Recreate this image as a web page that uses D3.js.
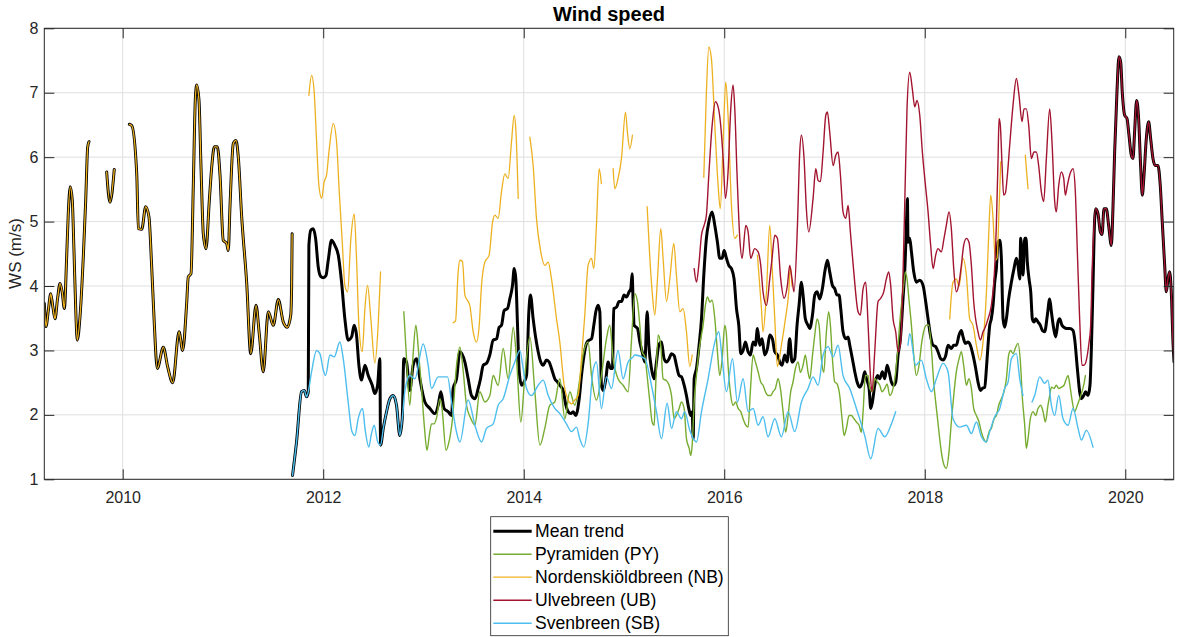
<!DOCTYPE html>
<html>
<head>
<meta charset="utf-8">
<script src="https://cdn.jsdelivr.net/npm/d3@7"></script>
<style>
  html, body { margin: 0; padding: 0; background: #ffffff; }
  svg { display: block; font-family: "Liberation Sans", Arial, Helvetica, sans-serif; }
</style>
</head>
<body>
<svg id="chart" width="1177" height="637"></svg>
<script>
// ---------------------------------------------------------------
// Wind speed at four Svalbard stations and their mean trend.
// Each series is a list of [decimal year, m/s]; null marks a data gap.
// ---------------------------------------------------------------
const xTicks = [2010, 2012, 2014, 2016, 2018, 2020];
const yTicks = [1, 2, 3, 4, 5, 6, 7, 8];
const seriesNames = ["Mean trend", "Pyramiden (PY)", "Nordenskiöldbreen (NB)", "Ulvebreen (UB)", "Svenbreen (SB)"];
const seriesColors = ["#000000", "#77AC30", "#EDB120", "#A2142F", "#4DBEEE"];

// NB record 2009-2011 (the only station then, so the mean equals it)
const nbEarly = [
  [2009.218,3.73],[2009.235,3.37],[2009.258,3.62],[2009.282,3.88],[2009.303,3.68],[2009.325,3.49],
  [2009.350,3.80],[2009.375,4.04],[2009.397,3.90],[2009.418,3.65],[2009.441,4.45],[2009.457,5.12],
  [2009.477,5.54],[2009.497,5.33],[2009.514,4.55],[2009.534,3.52],[2009.547,3.16],[2009.574,3.52],
  [2009.607,4.45],[2009.631,5.33],[2009.651,6.16],[2009.664,6.24], null,
  [2009.840,5.77],[2009.873,5.30],[2009.916,5.81], null,
  [2010.066,6.51],[2010.090,6.49],[2010.140,5.74],[2010.156,4.89],[2010.190,4.88],[2010.229,5.23],
  [2010.262,5.07],[2010.289,4.30],[2010.312,3.52],[2010.345,2.72],[2010.405,3.05],[2010.449,2.74],
  [2010.499,2.50],[2010.562,3.29],[2010.598,3.00],[2010.638,3.73],[2010.654,4.14],[2010.681,4.19],
  [2010.704,5.54],[2010.724,6.88],[2010.738,7.12],[2010.761,6.88],[2010.781,5.85],[2010.804,4.81],
  [2010.831,4.58],[2010.864,5.33],[2010.888,5.85],[2010.914,6.16],[2010.944,6.16],[2010.970,5.74],
  [2011.003,4.71],[2011.037,4.66],[2011.053,4.55],[2011.070,5.23],[2011.103,6.21],[2011.130,6.26],
  [2011.153,6.00],[2011.187,5.07],[2011.237,4.04],[2011.277,2.95],[2011.330,3.70],[2011.362,3.26],
  [2011.402,2.67],[2011.452,3.60],[2011.502,3.39],[2011.552,3.79],[2011.602,3.44],[2011.642,3.36],
  [2011.676,3.55],[2011.685,4.00],[2011.690,4.81]
];

// SB spans where the mean follows SB alone
const sbEarly = [[2011.694,1.06],[2011.734,1.58],[2011.784,2.36],[2011.811,2.38],[2011.834,2.28],[2011.851,2.36]];
const sbMid = [[2012.572,1.53],[2012.600,1.80],[2012.632,2.05],[2012.665,2.25],[2012.698,2.30],[2012.731,2.15],[2012.764,1.68],[2012.788,1.94]];

// UB from mid-2019 onward (only station then, so the mean equals it)
const ubLate = [
  [2019.705,5.20],[2019.728,5.12],[2019.751,4.84],[2019.768,4.80],[2019.788,5.20],[2019.811,5.20],
  [2019.834,4.94],[2019.861,4.63],[2019.877,5.20],[2019.894,6.08],[2019.917,7.01],[2019.937,7.56],
  [2019.954,7.48],[2019.970,7.01],[2019.994,6.65],[2020.017,6.60],[2020.037,6.34],[2020.060,6.03],
  [2020.077,5.98],[2020.093,6.39],[2020.113,6.88],[2020.133,6.60],[2020.153,5.87],[2020.170,5.41],
  [2020.186,5.70],[2020.210,6.29],[2020.233,6.55],[2020.253,6.29],[2020.276,5.98],[2020.299,5.87],
  [2020.326,5.87],[2020.349,5.56],[2020.369,4.99],[2020.393,4.32],[2020.409,3.91],[2020.426,4.11],
  [2020.442,4.22],[2020.459,3.91],[2020.476,3.13],[2020.486,2.82]
];

// Mean trend between the single-station spans
const meanA = [
  [2011.857,4.63],[2011.877,4.87],[2011.900,4.89],[2011.924,4.74],[2011.950,4.30],[2011.975,4.15],
  [2012.000,4.13],[2012.027,4.16],[2012.050,4.40],[2012.083,4.71],[2012.116,4.63],[2012.150,4.48],
  [2012.183,4.06],[2012.216,3.49],[2012.249,3.16],[2012.283,3.21],[2012.309,3.39],[2012.332,3.24],
  [2012.356,2.77],[2012.382,2.54],[2012.416,2.77],[2012.449,2.61],[2012.489,2.46],[2012.515,2.33],
  [2012.542,2.46],[2012.565,2.87]
];
const meanB = [
  [2012.804,2.87],[2012.831,2.82],[2012.864,2.38],[2012.897,2.77],[2012.931,2.87],[2012.964,2.56],
  [2013.014,2.20],[2013.064,2.10],[2013.114,2.02],[2013.147,2.15],[2013.173,2.36],[2013.206,2.10],
  [2013.246,2.05],[2013.280,1.99],[2013.296,2.41],[2013.330,2.56],[2013.363,2.98],[2013.413,2.82],
  [2013.446,2.56],[2013.479,2.30],[2013.513,2.25],[2013.546,2.41],[2013.569,2.56],[2013.596,2.77],
  [2013.629,2.80],[2013.662,2.93],[2013.695,3.16],[2013.729,3.18],[2013.755,3.36],[2013.778,3.39],
  [2013.805,3.62],[2013.838,3.65],[2013.861,3.80],[2013.888,4.01],[2013.905,4.27],[2013.921,4.11],
  [2013.938,3.39],[2013.955,2.67],[2013.978,2.46],[2014.004,2.51],[2014.028,2.61],[2014.051,3.60],
  [2014.067,3.86],[2014.094,3.49],[2014.121,3.18],[2014.144,2.98],[2014.170,2.82],[2014.194,2.77],
  [2014.227,2.85],[2014.254,2.82],[2014.277,2.72],[2014.310,2.56],[2014.337,2.51],[2014.360,2.46],
  [2014.393,2.38],[2014.420,2.15],[2014.443,2.05],[2014.470,2.02],[2014.493,2.05],[2014.519,1.99],
  [2014.553,2.25],[2014.576,2.61],[2014.602,2.93],[2014.626,3.11],[2014.652,3.16],[2014.676,3.18],
  [2014.699,3.39],[2014.719,3.60],[2014.742,3.70],[2014.759,3.60],[2014.775,2.46],[2014.792,2.38],
  [2014.819,2.56],[2014.842,2.82],[2014.865,2.72],[2014.885,2.72],[2014.898,3.65],[2014.925,3.67],
  [2014.951,3.76],[2014.975,3.76],[2015.001,3.86],[2015.025,3.83],[2015.051,3.91],[2015.068,3.96],
  [2015.081,4.19],[2015.091,3.76],[2015.101,3.39],[2015.135,3.34],[2015.158,3.13],[2015.181,2.98],
  [2015.208,2.82],[2015.231,3.60],[2015.248,3.08],[2015.274,2.72],[2015.301,2.56],[2015.324,2.82],
  [2015.347,3.08],[2015.374,3.13],[2015.400,2.87],[2015.424,2.82],[2015.450,2.87],[2015.474,2.95],
  [2015.500,2.92],[2015.523,2.77],[2015.550,2.61],[2015.573,2.59],[2015.600,2.46],[2015.623,2.30],
  [2015.646,2.10],[2015.666,1.99],[2015.680,2.05],[2015.690,1.63],[2015.700,2.56],[2015.723,2.72],
  [2015.749,3.08],[2015.773,3.49],[2015.796,4.17],[2015.822,4.74],[2015.846,4.99],[2015.879,5.15],
  [2015.906,4.94],[2015.932,4.68],[2015.955,4.43],[2015.979,4.43],[2015.999,4.55],[2016.022,4.43],
  [2016.045,4.32],[2016.072,4.27],[2016.098,4.11],[2016.122,3.65],[2016.145,3.39],[2016.165,2.95],
  [2016.188,3.00],[2016.211,3.13],[2016.238,2.98],[2016.261,2.93],[2016.288,3.13],[2016.311,3.08],
  [2016.331,3.34],[2016.354,3.08],[2016.377,3.18],[2016.404,2.93],[2016.431,3.03],[2016.454,3.24],
  [2016.480,3.18],[2016.504,2.98],[2016.530,2.93],[2016.554,2.82],[2016.577,2.77],[2016.603,2.93],
  [2016.627,2.82],[2016.653,3.18],[2016.676,2.82],[2016.703,2.87],[2016.726,3.39],[2016.746,3.70],
  [2016.770,4.06],[2016.786,3.86],[2016.809,3.49],[2016.836,3.39],[2016.853,3.34],[2016.880,3.55],
  [2016.903,3.86],[2016.926,3.91],[2016.953,3.80],[2016.979,3.96],[2017.003,4.22],[2017.029,4.40],
  [2017.052,4.22],[2017.079,4.01],[2017.102,3.96],[2017.125,3.86],[2017.145,3.86],[2017.162,3.65],
  [2017.185,3.29],[2017.212,3.18],[2017.235,3.21],[2017.252,3.08],[2017.278,2.87],[2017.302,2.67],
  [2017.325,2.51],[2017.351,2.43],[2017.378,2.51],[2017.401,2.67],[2017.418,2.56],[2017.445,2.41],
  [2017.461,2.10],[2017.478,2.20],[2017.501,2.46],[2017.528,2.61],[2017.551,2.56],[2017.577,2.67],
  [2017.601,2.56],[2017.624,2.77],[2017.644,2.67],[2017.667,2.51],[2017.690,2.46],[2017.710,2.51],
  [2017.734,2.93],[2017.757,3.18],[2017.783,3.80],[2017.803,4.32],[2017.817,4.94],[2017.827,5.36],
  [2017.833,4.68],[2017.850,4.74],[2017.867,4.53],[2017.890,4.22],[2017.916,4.06],[2017.950,4.09],
  [2017.983,4.01],[2018.009,3.76],[2018.033,3.49],[2018.056,3.24],[2018.083,3.08],[2018.109,3.06],
  [2018.132,2.98],[2018.159,2.87],[2018.182,2.85],[2018.209,2.92],[2018.232,3.08],[2018.265,3.03],
  [2018.289,3.08],[2018.315,3.08],[2018.342,3.24],[2018.365,3.31],[2018.382,3.21],[2018.405,3.11],
  [2018.431,3.13],[2018.455,3.08],[2018.481,2.93],[2018.508,2.72],[2018.531,2.51],[2018.555,2.38],
  [2018.574,2.41],[2018.598,2.43],[2018.615,2.72],[2018.631,3.08],[2018.648,3.39],[2018.664,3.49],
  [2018.681,3.70],[2018.698,4.06],[2018.714,4.27],[2018.731,4.68],[2018.748,4.71],[2018.764,4.43],
  [2018.781,3.49],[2018.797,3.36],[2018.814,3.49],[2018.837,3.80],[2018.864,4.06],[2018.890,4.27],
  [2018.914,4.43],[2018.930,4.32],[2018.947,4.11],[2018.957,4.74],[2018.970,4.43],[2018.980,4.17],
  [2018.997,4.74],[2019.010,4.74],[2019.023,4.37],[2019.040,4.11],[2019.057,3.91],[2019.073,3.49],
  [2019.090,3.44],[2019.106,3.49],[2019.130,3.44],[2019.153,3.39],[2019.173,3.31],[2019.196,3.29],
  [2019.223,3.55],[2019.246,3.80],[2019.263,3.60],[2019.286,3.34],[2019.306,3.21],[2019.329,3.44],
  [2019.346,3.49],[2019.369,3.39],[2019.389,3.36],[2019.412,3.34],[2019.445,3.34],[2019.479,3.31],
  [2019.495,3.18],[2019.522,2.72],[2019.545,2.36],[2019.562,2.25],[2019.585,2.30],[2019.605,2.36],
  [2019.628,2.30],[2019.648,2.46],[2019.661,2.98],[2019.678,4.01],[2019.695,5.05]
];

// Pyramiden
const pyValues = [
  [2012.804,3.60],[2012.830,2.90],[2012.864,2.15],[2012.895,2.90],[2012.924,3.39],[2012.950,3.00],
  [2012.980,2.43],[2013.010,1.80],[2013.035,1.45],[2013.060,1.70],[2013.080,1.86],[2013.105,1.86],
  [2013.130,1.95],[2013.165,2.25],[2013.185,2.10],[2013.225,1.45],[2013.250,1.55],[2013.290,1.95],
  [2013.330,2.77],[2013.363,3.05],[2013.395,2.70],[2013.429,2.15],[2013.470,1.95],[2013.513,1.84],
  [2013.562,2.36],[2013.612,2.20],[2013.662,2.30],[2013.695,2.61],[2013.745,2.46],[2013.795,3.03],
  [2013.845,2.56],[2013.895,3.36],[2013.928,2.87],[2013.971,1.89],[2014.011,2.61],[2014.061,3.21],
  [2014.111,2.36],[2014.161,1.53],[2014.210,1.79],[2014.260,2.15],[2014.310,2.20],[2014.360,2.56],
  [2014.410,1.94],[2014.460,2.36],[2014.509,2.15],[2014.559,2.56],[2014.592,2.93],[2014.642,3.13],
  [2014.676,2.61],[2014.725,2.23],[2014.775,2.61],[2014.825,3.18],[2014.858,3.39],[2014.892,2.87],
  [2014.941,2.56],[2014.991,2.46],[2015.041,2.36],[2015.074,3.13],[2015.108,3.88],[2015.135,3.75],
  [2015.158,3.39],[2015.181,2.98],[2015.208,2.90],[2015.234,2.56],[2015.258,2.20],[2015.281,1.89],
  [2015.301,1.84],[2015.314,2.36],[2015.341,3.24],[2015.367,3.08],[2015.390,2.56],[2015.424,2.53],
  [2015.450,2.46],[2015.474,2.30],[2015.500,1.94],[2015.523,1.99],[2015.550,2.10],[2015.573,2.20],
  [2015.600,2.10],[2015.623,1.63],[2015.650,1.48],[2015.666,1.37],[2015.680,1.53],[2015.700,2.20],
  [2015.723,2.61],[2015.746,2.98],[2015.766,3.18],[2015.789,3.39],[2015.812,3.70],[2015.832,3.83],
  [2015.856,3.75],[2015.879,3.78],[2015.906,3.49],[2015.932,2.98],[2015.955,2.61],[2015.979,2.87],
  [2016.005,3.39],[2016.022,3.24],[2016.038,2.77],[2016.065,2.30],[2016.088,2.15],[2016.115,2.20],
  [2016.138,2.10],[2016.165,2.05],[2016.188,1.94],[2016.215,1.84],[2016.238,1.81],[2016.261,2.38],
  [2016.288,2.93],[2016.311,2.82],[2016.338,2.67],[2016.364,2.51],[2016.387,2.46],[2016.411,2.36],
  [2016.437,2.30],[2016.464,2.30],[2016.487,2.36],[2016.510,2.41],[2016.537,2.56],[2016.560,2.41],
  [2016.587,2.05],[2016.613,1.73],[2016.637,1.99],[2016.663,2.36],[2016.686,2.51],[2016.710,2.72],
  [2016.736,2.82],[2016.760,2.66],[2016.786,2.77],[2016.809,2.93],[2016.836,2.66],[2016.853,2.56],
  [2016.880,2.92],[2016.903,3.24],[2016.926,3.49],[2016.946,3.39],[2016.969,2.87],[2016.993,2.66],
  [2017.019,3.29],[2017.042,3.60],[2017.059,3.39],[2017.079,2.87],[2017.102,2.51],[2017.125,2.48],
  [2017.152,2.30],[2017.175,1.94],[2017.195,1.68],[2017.218,1.79],[2017.245,1.99],[2017.268,1.99],
  [2017.295,1.94],[2017.318,1.89],[2017.345,1.84],[2017.368,1.73],[2017.385,2.05],[2017.408,2.61],
  [2017.435,2.61],[2017.451,2.41],[2017.478,2.36],[2017.501,2.56],[2017.528,2.51],[2017.551,2.46],
  [2017.574,2.36],[2017.601,2.41],[2017.624,2.48],[2017.651,2.30],[2017.684,2.41],[2017.710,2.67],
  [2017.734,3.08],[2017.757,3.55],[2017.783,3.91],[2017.807,4.22],[2017.823,4.11],[2017.843,3.78],
  [2017.867,3.39],[2017.890,2.93],[2017.916,2.61],[2017.943,2.77],[2017.966,3.08],[2017.989,3.29],
  [2018.016,3.39],[2018.039,3.39],[2018.066,3.03],[2018.089,2.51],[2018.116,2.10],[2018.142,1.73],
  [2018.165,1.43],[2018.192,1.22],[2018.215,1.17],[2018.242,1.43],[2018.265,1.89],[2018.289,2.30],
  [2018.315,2.67],[2018.342,2.87],[2018.365,2.98],[2018.388,2.77],[2018.415,2.46],[2018.441,2.56],
  [2018.465,2.41],[2018.488,2.10],[2018.515,1.99],[2018.541,1.89],[2018.565,1.73],[2018.588,1.63],
  [2018.614,1.58],[2018.631,1.68],[2018.648,1.76],[2018.664,1.79],[2018.691,1.94],[2018.714,1.99],
  [2018.738,2.15],[2018.764,2.25],[2018.791,2.36],[2018.814,2.56],[2018.837,2.93],[2018.857,3.00],
  [2018.880,2.95],[2018.907,3.05],[2018.930,3.11],[2018.954,2.82],[2018.974,2.25],[2018.997,1.84],
  [2019.013,1.48],[2019.030,1.63],[2019.053,1.94],[2019.080,2.05],[2019.106,1.99],[2019.130,2.10],
  [2019.156,2.15],[2019.180,2.05],[2019.203,1.89],[2019.229,2.15],[2019.246,2.30],[2019.263,2.43],
  [2019.289,2.41],[2019.312,2.46],[2019.336,2.41],[2019.362,2.43],[2019.389,2.46],[2019.412,2.56],
  [2019.429,2.61],[2019.452,2.41],[2019.472,2.20],[2019.495,2.05],[2019.522,2.15],[2019.545,2.25],
  [2019.568,2.36],[2019.588,2.48],[2019.602,2.61]
];

// Nordenskiöldbreen after 2011
const nbLater = [
  [2011.857,6.96],[2011.884,7.27],[2011.910,7.01],[2011.934,6.24],[2011.957,5.56],[2011.984,5.36],
  [2012.010,5.62],[2012.033,5.72],[2012.057,6.08],[2012.100,6.52],[2012.133,6.24],[2012.160,5.46],
  [2012.190,4.68],[2012.216,4.01],[2012.243,3.91],[2012.276,4.74],[2012.309,5.12],[2012.332,4.43],
  [2012.356,3.39],[2012.389,2.98],[2012.416,3.65],[2012.442,4.01],[2012.475,3.49],[2012.515,2.80],
  [2012.548,3.39],[2012.572,4.22], null,
  [2013.296,3.43],[2013.320,3.46],[2013.345,4.20],[2013.363,4.40],[2013.389,4.38],[2013.413,3.86],
  [2013.462,3.70],[2013.496,3.29],[2013.529,3.13],[2013.556,3.39],[2013.579,4.01],[2013.612,4.37],
  [2013.655,4.48],[2013.689,4.99],[2013.712,5.10],[2013.745,5.05],[2013.778,5.46],[2013.812,5.74],
  [2013.845,5.67],[2013.878,6.24],[2013.905,6.65],[2013.921,6.44],[2013.945,5.36], null,
  [2014.061,6.31],[2014.094,5.87],[2014.127,5.05],[2014.170,4.53],[2014.210,4.32],[2014.244,4.37],
  [2014.277,4.11],[2014.327,3.49],[2014.360,3.13],[2014.403,2.46],[2014.443,2.23],[2014.476,2.17],
  [2014.509,2.23],[2014.543,2.30],[2014.576,2.87],[2014.609,3.55],[2014.642,4.32],[2014.676,4.43],
  [2014.699,4.27],[2014.725,4.94],[2014.752,5.82],[2014.775,5.59], null,
  [2014.892,5.82],[2014.908,5.51],[2014.941,5.67],[2014.975,5.98],[2015.015,6.70],[2015.034,6.39],
  [2015.058,6.13],[2015.084,6.34], null,
  [2015.231,5.23],[2015.258,4.43],[2015.281,3.91],[2015.307,3.55],[2015.334,4.11],[2015.367,4.89],
  [2015.390,4.43],[2015.424,3.76],[2015.457,4.11],[2015.497,4.66],[2015.523,4.17],[2015.557,3.60],
  [2015.590,3.65],[2015.623,3.29],[2015.656,2.75],[2015.680,2.93], null,
  [2015.796,5.69],[2015.822,7.01],[2015.846,7.71],[2015.872,7.53],[2015.906,6.49],[2015.939,5.56],
  [2015.960,5.20],[2015.989,6.24],[2016.015,7.17],[2016.038,6.65],[2016.072,5.25],[2016.105,4.74],
  [2016.131,4.79], null,
  [2016.331,4.48],[2016.371,3.65],[2016.387,3.29],[2016.421,3.91],[2016.454,4.94],[2016.477,4.32],
  [2016.504,3.49],[2016.530,2.75],[2016.570,3.08],[2016.610,3.49],[2016.643,3.90],[2016.659,4.30],
  [2016.676,4.00], null,
  [2018.249,3.49],[2018.282,4.06],[2018.315,4.11],[2018.342,4.00],[2018.382,4.43],[2018.415,4.17],
  [2018.448,3.49],[2018.481,3.39],[2018.515,3.08],[2018.548,2.85],[2018.581,3.13],[2018.615,3.90],
  [2018.638,4.80],[2018.658,5.41],[2018.681,5.05],[2018.704,4.40],[2018.721,4.43],[2018.741,5.20],
  [2018.758,5.93], null,
  [2019.003,6.03],[2019.017,5.75],[2019.030,5.51]
];

// Ulvebreen before the single-station span
const ubMain = [
  [2015.700,4.27],[2015.723,4.06],[2015.746,4.32],[2015.773,4.79],[2015.799,4.94],[2015.822,5.10],
  [2015.846,5.72],[2015.879,6.49],[2015.912,6.86],[2015.939,6.78],[2015.965,6.49],[2015.989,5.98],
  [2016.012,5.36],[2016.038,5.77],[2016.065,6.75],[2016.088,7.12],[2016.105,6.75],[2016.128,5.72],
  [2016.155,4.74],[2016.178,4.43],[2016.215,4.94],[2016.238,4.84],[2016.264,4.43],[2016.304,4.58],
  [2016.338,4.53],[2016.364,4.32],[2016.387,3.91],[2016.421,3.70],[2016.454,4.11],[2016.477,4.43],
  [2016.504,4.79],[2016.530,4.74],[2016.563,4.11],[2016.597,3.81],[2016.630,4.01],[2016.653,4.32],
  [2016.676,4.11],[2016.696,3.91],[2016.730,4.94],[2016.753,6.08],[2016.770,6.34],[2016.796,5.98],
  [2016.819,5.20],[2016.843,4.84],[2016.886,5.36],[2016.913,5.82],[2016.936,5.64],[2016.959,5.62],
  [2016.986,6.08],[2017.013,6.65],[2017.029,6.70],[2017.052,6.39],[2017.086,5.87],[2017.112,6.03],
  [2017.135,6.08],[2017.159,5.72],[2017.185,5.15],[2017.212,5.05],[2017.235,5.25],[2017.258,4.84],
  [2017.292,4.22],[2017.335,3.60],[2017.358,3.55],[2017.385,3.96],[2017.411,4.06],[2017.435,3.39],
  [2017.458,2.61],[2017.474,2.36],[2017.501,2.98],[2017.534,3.76],[2017.561,3.81],[2017.591,3.91],
  [2017.617,4.11],[2017.641,4.22],[2017.660,4.01],[2017.684,3.49],[2017.710,3.29],[2017.734,2.98],
  [2017.760,3.13],[2017.783,4.17],[2017.803,5.46],[2017.823,6.75],[2017.850,7.32],[2017.876,7.06],
  [2017.900,6.78],[2017.923,6.88],[2017.950,6.65],[2017.976,6.08],[2018.000,5.67],[2018.033,5.15],
  [2018.059,4.63],[2018.083,4.27],[2018.109,4.48],[2018.132,4.58],[2018.165,4.53],[2018.192,4.74],
  [2018.215,4.94],[2018.242,5.15],[2018.265,4.89],[2018.289,4.27],[2018.315,3.91],[2018.338,4.01],
  [2018.365,4.32],[2018.388,4.63],[2018.415,4.74],[2018.441,4.68],[2018.465,4.32],[2018.488,3.76],
  [2018.531,3.29],[2018.555,3.16],[2018.581,3.29],[2018.598,3.34],[2018.631,3.49],[2018.664,3.70],
  [2018.691,4.11],[2018.714,4.94],[2018.731,5.98],[2018.741,6.60],[2018.754,6.49],[2018.771,5.87],
  [2018.787,5.41],[2018.804,5.44],[2018.824,5.72],[2018.847,6.18],[2018.880,6.80],[2018.914,7.22],
  [2018.940,6.96],[2018.970,6.55],[2018.990,6.75],[2019.013,6.75],[2019.037,6.49],[2019.063,5.98],
  [2019.090,6.08],[2019.113,6.08],[2019.136,5.87],[2019.163,5.46],[2019.186,5.31],[2019.213,5.98],
  [2019.246,6.75],[2019.269,6.24],[2019.296,5.31],[2019.312,5.15],[2019.336,5.56],[2019.362,5.77],
  [2019.386,5.67],[2019.402,5.41],[2019.422,5.56],[2019.445,5.72],[2019.479,5.82],[2019.502,5.46],
  [2019.522,4.53],[2019.545,3.49],[2019.568,2.77],[2019.588,2.77],[2019.612,2.85],[2019.635,3.08],
  [2019.655,3.39],[2019.668,4.17],[2019.685,4.84]
];

// Svenbreen outside the spans shared with the mean
const sbA = [
  [2011.884,2.67],[2011.934,3.00],[2011.967,2.95],[2012.000,2.70],[2012.023,2.61],[2012.067,2.93],
  [2012.110,2.90],[2012.166,3.13],[2012.200,2.87],[2012.249,2.20],[2012.285,1.75],[2012.316,1.68],
  [2012.350,1.95],[2012.392,2.10],[2012.420,1.75],[2012.455,1.50],[2012.480,1.70],[2012.509,1.84],
  [2012.540,1.60]
];
const sbB = [
  [2012.814,2.36],[2012.864,2.61],[2012.914,2.56],[2012.997,3.10],[2013.047,2.77],[2013.080,2.41],
  [2013.147,2.59],[2013.240,2.59],[2013.280,2.20],[2013.330,1.73],[2013.363,1.58],[2013.446,2.23],
  [2013.513,1.84],[2013.579,1.58],[2013.629,1.79],[2013.695,1.86],[2013.745,2.15],[2013.795,2.25],
  [2013.861,2.61],[2013.911,2.82],[2013.961,3.00],[2013.994,2.72],[2014.028,2.41],[2014.077,2.30],
  [2014.144,2.46],[2014.194,2.54],[2014.244,2.30],[2014.310,2.10],[2014.360,2.02],[2014.426,1.86],
  [2014.476,1.74],[2014.526,1.81],[2014.559,1.63],[2014.599,1.50],[2014.642,1.86],[2014.692,2.69],
  [2014.725,2.82],[2014.775,2.10],[2014.825,2.59],[2014.875,2.41],[2014.941,3.00],[2014.991,2.56],
  [2015.041,2.82],[2015.091,2.90],[2015.108,2.93],[2015.208,2.87],[2015.274,2.46],[2015.324,2.05],
  [2015.374,1.63],[2015.430,2.18],[2015.474,1.79],[2015.523,2.05],[2015.573,1.94],[2015.606,2.05],
  [2015.656,1.76],[2015.723,1.58],[2015.773,2.05],[2015.839,2.56],[2015.906,3.13],[2015.945,3.29],
  [2015.979,2.87],[2016.022,2.36],[2016.082,2.87],[2016.131,2.20],[2016.188,2.56],[2016.238,2.05],
  [2016.288,2.10],[2016.338,1.84],[2016.387,1.97],[2016.437,1.66],[2016.504,1.94],[2016.570,1.66],
  [2016.637,2.05],[2016.703,1.74],[2016.770,2.20],[2016.836,2.41],[2016.886,2.59],[2016.936,2.46],
  [2016.986,2.93],[2017.036,3.06],[2017.086,2.90],[2017.135,3.08],[2017.185,2.61],[2017.252,2.41],
  [2017.318,2.10],[2017.401,1.68],[2017.461,1.32],[2017.534,1.79],[2017.601,1.66],[2017.667,1.86],
  [2017.710,2.05], null,
  [2017.833,3.08],[2017.850,3.26],[2017.910,2.77],[2017.966,2.85],[2018.016,2.56],[2018.066,2.36],
  [2018.116,2.56],[2018.182,2.80],[2018.232,2.67],[2018.282,1.94],[2018.348,1.81],[2018.415,1.84],
  [2018.465,1.71],[2018.515,1.89],[2018.565,1.66],[2018.614,1.58],[2018.648,1.74],[2018.698,1.97],
  [2018.748,2.10],[2018.797,2.41],[2018.831,2.51],[2018.864,2.87],[2018.914,2.95],[2018.947,2.56],
  [2018.980,2.30], null,
  [2019.070,2.20],[2019.096,2.30],[2019.146,2.59],[2019.196,2.49],[2019.229,2.54],[2019.263,2.15],
  [2019.296,1.99],[2019.336,2.30],[2019.379,1.94],[2019.429,1.84],[2019.479,2.10],[2019.529,1.79],
  [2019.562,1.61],[2019.612,1.76],[2019.678,1.50]
];

// Assemble the five plotted series (mean first so the stations draw over it)
const meanTrend = [...nbEarly, null, ...sbEarly, ...meanA, ...sbMid, ...meanB, ...ubLate];
const nbValues = [...nbEarly, null, ...nbLater];
const ubValues = [...ubMain, ...ubLate];
const sbValues = [...sbEarly, ...sbA, ...sbMid, ...sbB];
const allSeries = [meanTrend, pyValues, nbValues, ubValues, sbValues];
const lineWidths = [3, 1.4, 1.3, 1.4, 1.4];

// ---------------------------------------------------------------
const svg = d3.select("#chart");
const frame = { left: 44.3, right: 1173.7, top: 28.3, bottom: 479.3 };
const axisColor = "#262626";

const x = d3.scaleLinear().domain([2009.218, 2020.483]).range([frame.left, frame.right]);
const y = d3.scaleLinear().domain([1, 8]).range([frame.bottom, frame.top]);

svg.append("rect").attr("width", 1177).attr("height", 637).attr("fill", "#ffffff");

// grid
const grid = svg.append("g").attr("stroke", "#dfdfdf").attr("stroke-width", 1);
grid.selectAll("line.v").data(xTicks).join("line")
  .attr("x1", d => x(d)).attr("x2", d => x(d))
  .attr("y1", frame.top).attr("y2", frame.bottom);
grid.selectAll("line.h").data(yTicks).join("line")
  .attr("x1", frame.left).attr("x2", frame.right)
  .attr("y1", d => y(d)).attr("y2", d => y(d));

// data lines
svg.append("clipPath").attr("id", "plotClip").append("rect")
  .attr("x", frame.left).attr("y", frame.top)
  .attr("width", frame.right - frame.left).attr("height", frame.bottom - frame.top);

const line = d3.line()
  .defined(d => d !== null)
  .x(d => x(d[0]))
  .y(d => y(d[1]))
  .curve(d3.curveMonotoneX);

const lines = svg.append("g").attr("clip-path", "url(#plotClip)");
allSeries.forEach((s, i) => {
  lines.append("path")
    .attr("d", line(s))
    .attr("fill", "none")
    .attr("stroke", seriesColors[i])
    .attr("stroke-width", lineWidths[i])
    .attr("stroke-linejoin", "round")
    .attr("stroke-linecap", "round");
});

// axes: ticks point inward on all four sides
function styleAxis(g) {
  g.select(".domain").remove();
  g.selectAll(".tick line").attr("stroke", axisColor);
  g.selectAll(".tick text").attr("fill", axisColor).attr("font-size", 16)
    .attr("font-family", "'Liberation Sans', Arial, sans-serif");
}
svg.append("g").attr("transform", `translate(0,${frame.bottom})`)
  .call(d3.axisBottom(x).tickValues(xTicks).tickFormat(d3.format("d")).tickSizeInner(-10).tickSizeOuter(0).tickPadding(12))
  .call(styleAxis);
svg.append("g").attr("transform", `translate(0,${frame.top})`)
  .call(d3.axisTop(x).tickValues(xTicks).tickFormat("").tickSizeInner(-10).tickSizeOuter(0))
  .call(styleAxis);
svg.append("g").attr("transform", `translate(${frame.left},0)`)
  .call(d3.axisLeft(y).tickValues(yTicks).tickFormat(d3.format("d")).tickSizeInner(-10).tickSizeOuter(0).tickPadding(6))
  .call(styleAxis);
svg.append("g").attr("transform", `translate(${frame.right},0)`)
  .call(d3.axisRight(y).tickValues(yTicks).tickFormat("").tickSizeInner(-10).tickSizeOuter(0))
  .call(styleAxis);

// axes box
svg.append("rect")
  .attr("x", frame.left).attr("y", frame.top)
  .attr("width", frame.right - frame.left).attr("height", frame.bottom - frame.top)
  .attr("fill", "none").attr("stroke", axisColor).attr("stroke-width", 1);

// title and y label
svg.append("text").attr("x", (frame.left + frame.right) / 2).attr("y", 20.5)
  .attr("text-anchor", "middle").attr("font-size", 20).attr("font-weight", "bold")
  .attr("fill", "#000").text("Wind speed");
svg.append("text").attr("transform", "translate(21,253.5) rotate(-90)")
  .attr("text-anchor", "middle").attr("font-size", 17).attr("fill", axisColor)
  .text("WS (m/s)");

// legend
const legend = svg.append("g").attr("transform", "translate(490.7,516.7)");
legend.append("rect").attr("width", 237.6).attr("height", 119)
  .attr("fill", "#fff").attr("stroke", axisColor).attr("stroke-width", 0.8);
seriesNames.forEach((name, i) => {
  const cy = 14.5 + i * 23;
  legend.append("line").attr("x1", 2.6).attr("x2", 41).attr("y1", cy).attr("y2", cy)
    .attr("stroke", seriesColors[i]).attr("stroke-width", lineWidths[i]);
  legend.append("text").attr("x", 44.3).attr("y", cy + 6)
    .attr("font-size", 17.6).attr("fill", "#000").text(name);
});
</script>
</body>
</html>
